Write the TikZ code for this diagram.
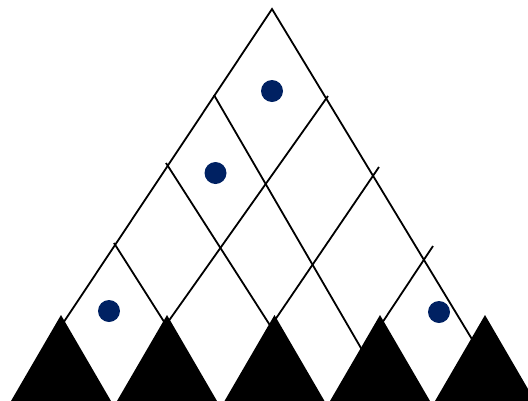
\documentclass[tikz,border=0pt]{standalone}
\definecolor{dotnavy}{RGB}{0,33,98}
\begin{document}
\begin{tikzpicture}[x=1pt,y=-1pt,
  gridline/.style={line width=1.8pt,black,line cap=butt},
  peak/.style={fill=black,draw=none},
  spot/.style={fill=dotnavy,draw=none}]
\useasboundingbox (0,0) rectangle (528,400);
\clip (0,0) rectangle (528,400);
% lattice points
\coordinate (apex) at (272,9);
\coordinate (lend) at (58.5,330);
\coordinate (rend) at (475.5,345);
\coordinate (a1) at (214,95);  \coordinate (a1e) at (365,355);
\coordinate (a2) at (166,163); \coordinate (a2e) at (273,330);
\coordinate (a3) at (114,243); \coordinate (a3e) at (169.3,330);
\coordinate (b1) at (328,96);  \coordinate (b1e) at (163.7,328);
\coordinate (b2) at (379,167); \coordinate (b2e) at (269.5,328);
\coordinate (b3) at (433,246); \coordinate (b3e) at (377.4,330);
% lines
\draw[gridline] (lend) -- (apex) -- (rend);
\draw[gridline] (a1) -- (a1e);
\draw[gridline] (a2) -- (a2e);
\draw[gridline] (a3) -- (a3e);
\draw[gridline] (b1) -- (b1e);
\draw[gridline] (b2) -- (b2e);
\draw[gridline] (b3) -- (b3e);
% dots
\fill[spot] (272,91) circle (11);
\fill[spot] (215.5,173) circle (11);
\fill[spot] (109,311) circle (11);
\fill[spot] (439,312) circle (11);
% triangles
\foreach \cx in {61,167,274.5,380,485}{
  \fill[peak] (\cx,315) -- (\cx-50,401) -- (\cx+50,401) -- cycle;
}
\end{tikzpicture}
\end{document}
